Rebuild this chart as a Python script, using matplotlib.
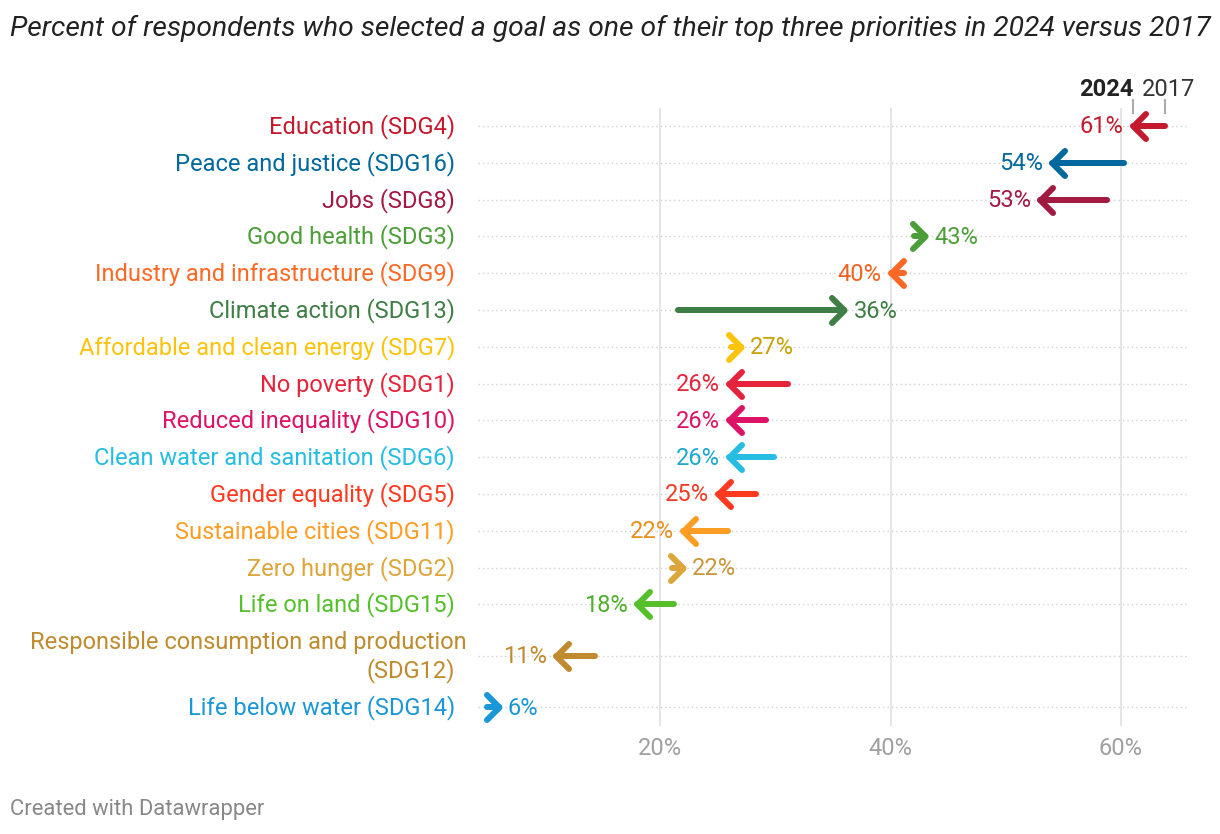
import numpy as np
import matplotlib.pyplot as plt
from matplotlib.path import Path
from matplotlib.markers import MarkerStyle

plt.rcParams['font.family'] = ['Roboto', 'DejaVu Sans']

# data
goals = ['Education (SDG4)', 'Peace and justice (SDG16)', 'Jobs (SDG8)',
         'Good health (SDG3)', 'Industry and infrastructure (SDG9)',
         'Climate action (SDG13)', 'Affordable and clean energy (SDG7)',
         'No poverty (SDG1)', 'Reduced inequality (SDG10)',
         'Clean water and sanitation (SDG6)', 'Gender equality (SDG5)',
         'Sustainable cities (SDG11)', 'Zero hunger (SDG2)',
         'Life on land (SDG15)',
         'Responsible consumption and production\n(SDG12)',
         'Life below water (SDG14)']
share_2024 = [61, 54, 53, 43, 40, 36, 27, 26, 26, 26, 25, 22, 22, 18, 11, 6]
share_2017 = [63.8, 60.3, 58.8, 42.0, 41.2, 21.6, 26.2, 31.1, 29.2, 29.9,
              28.3, 25.9, 21.0, 21.2, 14.4, 5.0]
colors = ['#C5192D', '#00689D', '#A21942', '#4C9F38', '#FD6925', '#3F7E44',
          '#FCC30B', '#E5243B', '#DD1367', '#26BDE2', '#FF3A21', '#FD9D24',
          '#DDA63A', '#56C02B', '#BF8B2E', '#1A97D6']
value_colors = ['#C5192D', '#00689D', '#A21942', '#4C9F38', '#F06420', '#3F7E44',
                '#C9A006', '#E5243B', '#DD1367', '#1DA8CD', '#F03A21', '#E8901E',
                '#C9973A', '#4DAF2A', '#BF8B2E', '#1A97D6']
tick_vals = [20, 40, 60]

W, H = 1220, 834
fig = plt.figure(figsize=(W / 100, H / 100), dpi=100)

# layout in pixels
row_px = 36.8
px_per_pct = 11.525
zero_px = 429.5
left_px, right_px, top_px = 478, 1188, 107.6
fs = 17

heights = np.array([1 + 0.8 * g.count('\n') for g in goals])
centers = np.cumsum(heights) - heights / 2
total = heights.sum()

ax = fig.add_axes([left_px / W, 1 - (top_px + total * row_px) / H,
                   (right_px - left_px) / W, total * row_px / H])
ax.set_xlim((left_px - zero_px) / px_per_pct, (right_px - zero_px) / px_per_pct)
ax.set_ylim(total, 0)
for s in ax.spines.values():
    s.set_visible(False)
ax.set_yticks([])
ax.set_xticks(tick_vals)
ax.set_xticklabels([f'{v}%' for v in tick_vals], color='#a0a0a0', fontsize=fs)
ax.tick_params(axis='x', length=0, pad=8)

for v in tick_vals:
    ax.axvline(v, color='#e3e3e3', lw=1.3, zorder=1)
for y in centers:
    ax.axhline(y, color='#cfcfcf', lw=1, ls=(0, (1, 2.2)), zorder=0)

pt = 72 / 100  # px -> points

left_head = MarkerStyle(Path([(1, 1), (0, 0), (1, -1)],
                             [Path.MOVETO, Path.LINETO, Path.LINETO]),
                        joinstyle='round', capstyle='round')
right_head = MarkerStyle(Path([(-1, 1), (0, 0), (-1, -1)],
                              [Path.MOVETO, Path.LINETO, Path.LINETO]),
                         joinstyle='round', capstyle='round')

for g, y, a, b, c, vc in zip(goals, centers, share_2017, share_2024, colors, value_colors):
    up = b > a
    ax.plot([a, b], [y, y], color=c, lw=6 * pt, solid_capstyle='round', zorder=3)
    ax.plot([b], [y], marker=right_head if up else left_head, ms=25 * pt,
            mfc='none', mec=c, mew=6 * pt, zorder=4)
    ax.annotate(f'{b:.0f}%', (b, y), xytext=((9 if up else -9) * pt, -7.5 * pt),
                textcoords='offset points', ha='left' if up else 'right',
                va='baseline', fontsize=fs, color=vc)
    lines = g.split('\n')
    n = len(lines)
    for i, line in enumerate(lines):
        dy = (i - (n - 1) / 2) * 29
        dx = -23 + (12 if i < n - 1 else 0)
        ax.annotate(line, (0, y), xycoords=('axes fraction', 'data'),
                    xytext=(dx * pt, (-dy - 7.5) * pt), textcoords='offset points',
                    ha='right', va='baseline', fontsize=fs, color=c,
                    annotation_clip=False)

# small key above the first row
ya = -(top_px - 100) / row_px
yb = (113 - top_px) / row_px
for v in (share_2024[0], share_2017[0]):
    ax.plot([v, v], [ya, yb], color='#aaaaaa', lw=1.5, clip_on=False)
ky = -(top_px - 96) / row_px
ax.text(share_2024[0] + 0.1, ky, '2024', ha='right', va='baseline',
        fontsize=fs, fontweight='bold', color='#222222')
ax.text(share_2017[0] + 0.3, ky, '2017', ha='center', va='baseline',
        fontsize=fs, color='#333333')

fig.text(10 / W, 1 - 28 / H,
         'Percent of respondents who selected a goal as one of their top three priorities in 2024 versus 2017',
         ha='left', va='center', fontsize=20.3, fontstyle='italic', color='#222222')
fig.text(10 / W, 1 - 810 / H, 'Created with Datawrapper', ha='left', va='center',
         fontsize=15.8, color='#888888')

fig.savefig('out.png', dpi=100)
